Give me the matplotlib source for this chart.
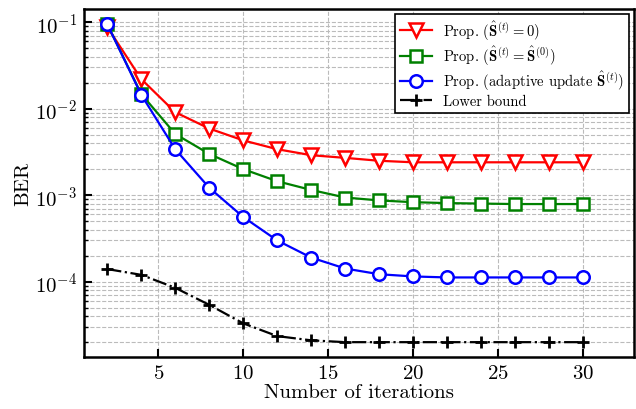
import matplotlib
matplotlib.use("Agg")
import matplotlib.pyplot as plt
from matplotlib.ticker import LogLocator, NullFormatter

plt.rcParams["font.family"] = "serif"
plt.rcParams["font.serif"] = ["cmr10"]
plt.rcParams["mathtext.fontset"] = "cm"
plt.rcParams["axes.formatter.use_mathtext"] = True

iterations = [2, 4, 6, 8, 10, 12, 14, 16, 18, 20, 22, 24, 26, 28, 30]
ber_zero = [0.088, 0.022, 0.0091, 0.0059, 0.0043, 0.0034, 0.0029, 0.0027, 0.0025,
            0.0024, 0.0024, 0.0024, 0.0024, 0.0024, 0.0024]
ber_init = [0.095, 0.0148, 0.0051, 0.0030, 0.0020, 0.00145, 0.00115, 0.00094, 0.00087,
            0.00083, 0.00081, 0.00080, 0.00079, 0.00079, 0.00079]
ber_adaptive = [0.095, 0.0145, 0.0034, 0.00122, 0.00056, 0.00030, 0.00019, 0.000142,
                0.000122, 0.000115, 0.000112, 0.000112, 0.000112, 0.000112, 0.000112]
ber_bound = [1.4e-4, 1.2e-4, 8.5e-5, 5.4e-5, 3.3e-5, 2.35e-5, 2.1e-5, 2.0e-5, 2.0e-5,
             2.0e-5, 2.0e-5, 2.0e-5, 2.0e-5, 2.0e-5, 2.0e-5]

labels = [r"Prop. ($\hat{\mathbf{S}}^{(t)} = \mathbf{0}$)",
          r"Prop. ($\hat{\mathbf{S}}^{(t)} = \hat{\mathbf{S}}^{(0)}$)",
          r"Prop. (adaptive update $\hat{\mathbf{S}}^{(t)}$)",
          "Lower bound"]

fig = plt.figure(figsize=(6.36, 4.10), dpi=100)
ax = fig.add_axes([0.132, 0.127, 0.865, 0.849])

ax.plot(iterations, ber_zero, color="red", lw=1.6, marker="v", ms=9.5,
        mfc="white", mew=1.8, label=labels[0], zorder=3)
ax.plot(iterations, ber_init, color="green", lw=1.6, marker="s", ms=8.5,
        mfc="white", mew=1.8, label=labels[1], zorder=3)
ax.plot(iterations, ber_adaptive, color="blue", lw=1.6, marker="o", ms=9,
        mfc="white", mew=1.8, label=labels[2], zorder=3)
ax.plot(iterations, ber_bound, color="black", lw=1.6, ls="-.", marker="+", ms=9,
        mew=2, label=labels[3], zorder=3)

ax.set_yscale("log")
ax.set_xlim(0.63, 33.0)
ax.set_ylim(1.35e-5, 0.1426)
ax.set_xticks([5, 10, 15, 20, 25, 30])
ax.yaxis.set_major_locator(LogLocator(base=10, numticks=10))
ax.yaxis.set_minor_locator(LogLocator(base=10, subs=range(2, 10), numticks=20))
ax.yaxis.set_minor_formatter(NullFormatter())

ax.grid(True, which="major", ls="--", color="#bbbbbb", lw=0.8)
ax.grid(True, which="minor", axis="y", ls="--", color="#bbbbbb", lw=0.8)
ax.set_axisbelow(True)

ax.tick_params(which="both", direction="in", top=False, right=False, labelsize=15)
ax.tick_params(which="major", length=6, width=1.5, pad=5)
ax.tick_params(which="minor", length=3, width=1.0)
for s in ax.spines.values():
    s.set_linewidth(1.8)

ax.set_xlabel("Number of iterations", fontsize=15, labelpad=1)
ax.set_ylabel("BER", fontsize=15, labelpad=2)

leg = ax.legend(loc="upper right", fontsize=10.5, fancybox=False, framealpha=1,
                edgecolor="black", handlelength=2.2, borderpad=0.3, labelspacing=0.15,
                borderaxespad=0.35)
leg.get_frame().set_linewidth(1.2)

fig.savefig("out.png", dpi=100)
